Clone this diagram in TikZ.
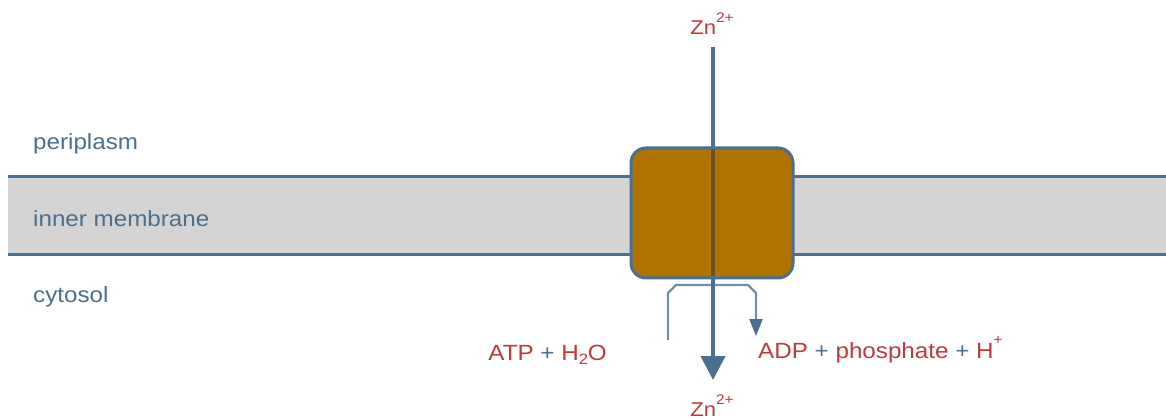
\documentclass[tikz,border=0pt]{standalone}
\usepackage{fontspec}
\setmainfont{Liberation Sans}[FakeStretch=1.1]
\usetikzlibrary{arrows.meta}
\definecolor{steel}{HTML}{4A6F8F}
\definecolor{lightsteel}{HTML}{6F8FAB}
\definecolor{rust}{HTML}{C0393B}
\definecolor{mem}{HTML}{D4D4D4}
\definecolor{brownbox}{HTML}{B07200}
\definecolor{darkline}{HTML}{6E5020}
\newcommand\myup[1]{\raisebox{0.6em}{\fontsize{14}{14}\selectfont #1}}
\newcommand\mydown[1]{\raisebox{-0.22em}{\fontsize{15}{15}\selectfont #1}}
\newcommand\plus{{\color{steel}+}}
\begin{document}
\begin{tikzpicture}[x=1pt,y=-1pt,
  region/.style={inner sep=0pt, anchor=base west, text=steel, font=\fontsize{22}{24}\selectfont},
  species/.style={inner sep=0pt, text=rust, font=\fontsize{22}{24}\selectfont},
  ion/.style={inner sep=0pt, anchor=base, text=rust, font=\fontsize{20}{22}\selectfont},
  memline/.style={draw=steel, line width=3pt},
  pumpbox/.style={draw=steel, line width=3pt, fill=brownbox, rounded corners=15pt,
    minimum width=162pt, minimum height=130pt, inner sep=0pt},
  flux/.style={draw=steel, line width=4pt, -{Triangle[width=24pt,length=24pt]}},
  hook/.style={draw=lightsteel, line width=2.2pt, -{Triangle[width=13pt,length=17pt,color=steel,fill=steel]}}]
\useasboundingbox (0,0) rectangle (1166,419);
% membrane
\fill[mem] (8,177) rectangle (1166,255);
\draw[memline] (8,177) -- (1166,177);
\draw[memline] (8,255) -- (1166,255);
% region labels
\node[region] (peri) at (33,150) {periplasm};
\node[region] (inner) at (33,227) {inner membrane};
\node[region] (cyto) at (33,302) {cytosol};
% transporter
\node[pumpbox] (pump) at (712,213) {};
% ions
\node[ion] (zntop) at (712,35) {Zn\myup{2+}};
\node[ion] (znbot) at (712,416) {Zn\myup{2+}};
% ATP hydrolysis hook
\coordinate (h0) at (668,340);
\coordinate (h1) at (668,293);
\coordinate (h2) at (676,285);
\coordinate (h3) at (748,285);
\coordinate (h4) at (756,293);
\coordinate (h5) at (756,336);
\draw[hook] (h0) -- (h1) -- (h2) -- (h3) -- (h4) -- (h5);
% main flux
\coordinate (fstart) at (713,47);
\coordinate (ftip) at (713,380);
\draw[flux] (fstart) -- (ftip);
\coordinate (din) at (713,149.5);
\coordinate (dout) at (713,276.5);
\draw[darkline, line width=4pt] (din) -- (dout);
% species labels
\node[species, anchor=base east] (atp) at (607,360) {ATP \plus{} H\mydown{2}O};
\node[species, anchor=base west] (adp) at (758,358) {ADP \plus{} phosphate \plus{} H\myup{+}};
\end{tikzpicture}
\end{document}
